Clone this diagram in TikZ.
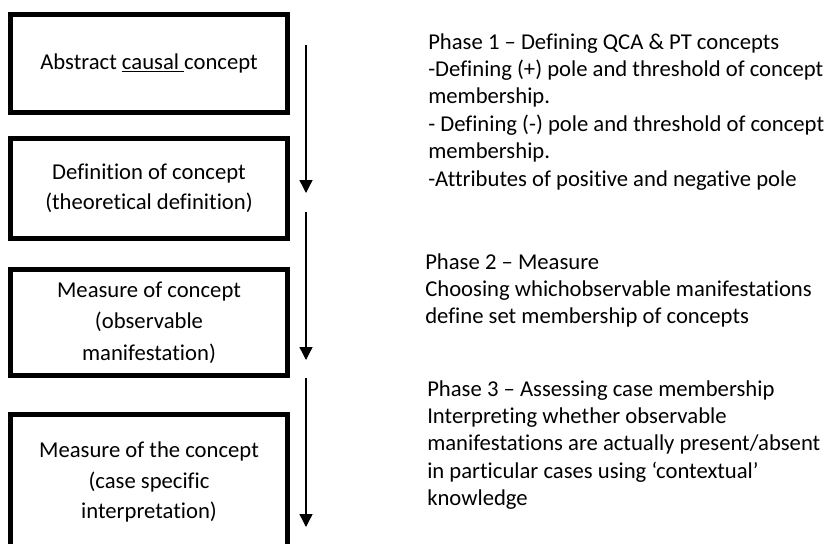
\documentclass[tikz,border=0pt]{standalone}
\usepackage{fontspec}
\setmainfont{Carlito}[Ligatures={TeX,NoCommon}]
\usetikzlibrary{arrows.meta}
\begin{document}
\begin{tikzpicture}[x=0.75pt,y=-0.75pt,
  box/.style={draw, line width=3.75pt, minimum width=207.75pt, inner sep=0pt, outer sep=0pt, align=center, font=\fontsize{17}{20.6}\selectfont},
  txt/.style={anchor=north west, align=left, inner sep=0pt, font=\fontsize{17}{20.6}\selectfont},
  flow/.style={line width=1pt, -{Triangle[width=9.75pt,length=9.75pt]}}]
\useasboundingbox (0,0) rectangle (828,543);
\clip (0,0) rectangle (828,543);
\node[box, minimum height=73.5pt] (b1) at (149,63.5) {Abstract \underline{causal\ }concept};
\node[box, minimum height=75pt] (b2) at (149,188.5) {Definition of concept\\[2pt](theoretical definition)};
\node[box, minimum height=79.5pt] (b3) at (149,322.5) {Measure of concept\\[3pt](observable\\[3pt]manifestation)};
\node[box, minimum height=101.25pt] (b4) at (149,482) {Measure of the concept\\[2pt](case specific\\[2pt]interpretation)};
\coordinate (a1s) at (306,45);
\coordinate (a1e) at (306,193);
\coordinate (a2s) at (306,212);
\coordinate (a2e) at (306,360);
\coordinate (a3s) at (306,378);
\coordinate (a3e) at (306,527);
\draw[flow] (a1s) -- (a1e);
\draw[flow] (a2s) -- (a2e);
\draw[flow] (a3s) -- (a3e);
\node[txt] (p1) at (428,33) {Phase 1 – Defining QCA \& PT concepts\\-Defining (+) pole and threshold of concept\\membership.\\- Defining (-) pole and threshold of concept\\membership.\\-Attributes of positive and negative pole};
\node[txt] (p2) at (425,253) {Phase 2 – Measure\\Choosing whichobservable manifestations\\define set membership of concepts};
\node[txt] (p3) at (427,380) {Phase 3 – Assessing case membership\\Interpreting whether observable\\manifestations are actually present/absent\\in particular cases using ‘contextual’\\knowledge};
\end{tikzpicture}
\end{document}
